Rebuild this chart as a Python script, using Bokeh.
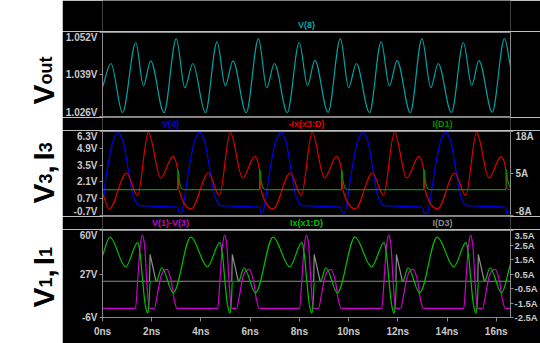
import math
from bokeh.plotting import figure
from bokeh.models import Range1d, LinearAxis, FixedTicker, PrintfTickFormatter, Label
from bokeh.core.properties import value
from bokeh.layouts import row, column
from bokeh.embed import file_html
from bokeh.resources import INLINE

# ---------------- data ----------------
T_END = 16.58  # ns, end of the transient window

# Panel 1: V(8) [V]  (turning points of the waveform)
V8 = [(0.000, 1.0350), (0.342, 1.0424), (0.814, 1.0272), (1.353, 1.0489), (1.663, 1.0355),
      (1.959, 1.0432), (2.498, 1.0272), (2.997, 1.0501), (3.347, 1.0349), (3.670, 1.0424),
      (4.182, 1.0272), (4.654, 1.0491), (4.991, 1.0355), (5.301, 1.0432), (5.840, 1.0272),
      (6.338, 1.0501), (6.675, 1.0349), (6.985, 1.0424), (7.510, 1.0272), (7.995, 1.0489),
      (8.332, 1.0356), (8.628, 1.0434), (9.167, 1.0273), (9.666, 1.0501), (10.003, 1.0349),
      (10.313, 1.0424), (10.851, 1.0272), (11.323, 1.0491), (11.660, 1.0355), (11.970, 1.0433),
      (12.508, 1.0272), (12.981, 1.0501), (13.341, 1.0349), (13.640, 1.0424), (14.179, 1.0272),
      (14.665, 1.0489), (15.002, 1.0356), (15.298, 1.0433), (15.837, 1.0273), (16.335, 1.0501),
      (16.580, 1.0414)]

# Panel 2: V(4) [V]
V4 = [(0.000, -0.20), (0.127, 2.29), (0.262, 3.95), (0.423, 5.47), (0.639, 6.25), (0.841, 5.47),
      (1.003, 3.67), (1.137, 2.01), (1.245, 0.90), (1.339, 0.49), (1.380, 0.30), (1.515, 0.13),
      (1.986, 0.08), (2.997, -0.01), (3.064, -0.06), (3.131, -0.48), (3.203, -0.53),
      (3.306, 0.41), (3.441, 2.29), (3.576, 3.95), (3.737, 5.47), (3.953, 6.25), (4.155, 5.47),
      (4.317, 3.67), (4.451, 2.01), (4.559, 0.90), (4.653, 0.49), (4.694, 0.30), (4.829, 0.13),
      (5.300, 0.08), (6.311, -0.01), (6.378, -0.06), (6.445, -0.48), (6.504, -0.53),
      (6.607, 0.41), (6.742, 2.29), (6.877, 3.95), (7.038, 5.47), (7.254, 6.25), (7.456, 5.47),
      (7.618, 3.67), (7.752, 2.01), (7.860, 0.90), (7.954, 0.49), (7.995, 0.30), (8.130, 0.13),
      (8.601, 0.08), (9.612, -0.01), (9.679, -0.06), (9.746, -0.48), (9.832, -0.53),
      (9.935, 0.41), (10.070, 2.29), (10.205, 3.95), (10.366, 5.47), (10.582, 6.25), (10.784, 5.47),
      (10.946, 3.67), (11.080, 2.01), (11.188, 0.90), (11.282, 0.49), (11.323, 0.30), (11.458, 0.13),
      (11.929, 0.08), (12.940, -0.01), (13.007, -0.06), (13.074, -0.48), (13.200, -0.53),
      (13.303, 0.41), (13.438, 2.29), (13.573, 3.95), (13.734, 5.47), (13.950, 6.25), (14.152, 5.47),
      (14.314, 3.67), (14.448, 2.01), (14.556, 0.90), (14.650, 0.49), (14.691, 0.30), (14.826, 0.13),
      (15.297, 0.08), (16.308, -0.01), (16.375, -0.06), (16.442, -0.48), (16.580, -0.53)]

# Panel 2: -Ix(x3:D) [A]
IX3 = [(0.000, -1.0), (0.276, -5.95), (0.976, 5.15), (1.421, -1.83), (1.865, 17.7), (2.363, 3.61),
       (2.862, 10.3), (3.064, 5.67), (3.104, 0.2),
       (3.604, -5.95), (4.304, 5.15), (4.749, -1.83), (5.193, 17.7), (5.691, 3.61),
       (6.190, 10.3), (6.392, 5.67), (6.432, 0.2),
       (6.932, -5.95), (7.632, 5.15), (8.077, -1.83), (8.521, 17.7), (9.019, 3.61),
       (9.518, 10.3), (9.720, 5.67), (9.760, 0.2),
       (10.273, -5.95), (10.973, 5.15), (11.418, -1.83), (11.862, 17.7), (12.360, 3.61),
       (12.859, 10.3), (13.061, 5.67), (13.101, 0.2),
       (13.614, -5.95), (14.314, 5.15), (14.759, -1.83), (15.203, 17.7), (15.701, 3.61),
       (16.200, 10.3), (16.402, 5.67), (16.442, 0.2), (16.580, 0.0)]

# Panel 2: I(D1) [A]
ID1 = [(0.000, 0.0), (3.060, 0.0), (3.064, 6.2), (3.124, 2.6), (3.174, 1.0), (3.234, 0.2), (3.314, 0.0),
       (6.388, 0.0), (6.392, 6.3), (6.452, 2.6), (6.502, 1.0), (6.562, 0.2), (6.642, 0.0),
       (9.716, 0.0), (9.720, 6.2), (9.780, 2.6), (9.830, 1.0), (9.890, 0.2), (9.970, 0.0),
       (13.057, 0.0), (13.061, 6.3), (13.121, 2.6), (13.171, 1.0), (13.231, 0.2), (13.311, 0.0),
       (16.398, 0.0), (16.402, 6.3), (16.462, 3.2), (16.512, 1.6), (16.580, 0.6)]

# Panel 3: V(1)-V(3) [V]
V13 = [(0.000, 0.9),
       (1.339, 0.9), (1.440, 25.0), (1.541, 50.0), (1.622, 56.7), (1.703, 50.0), (1.804, 20.0), (1.897, 0.9),
       (2.107, 0.9), (2.240, 12.5), (2.378, 25.3), (2.499, 29.5), (2.620, 30.5), (2.782, 22.8), (2.915, 7.4), (3.025, 0.9),
       (4.681, 0.9), (4.782, 25.0), (4.883, 50.0), (4.964, 56.7), (5.045, 50.0), (5.146, 20.0), (5.239, 0.9),
       (5.449, 0.9), (5.582, 12.5), (5.720, 25.3), (5.841, 29.5), (5.962, 30.5), (6.124, 22.8), (6.257, 7.4), (6.367, 0.9),
       (8.008, 0.9), (8.109, 25.0), (8.210, 50.0), (8.291, 56.7), (8.372, 50.0), (8.473, 20.0), (8.566, 0.9),
       (8.776, 0.9), (8.909, 12.5), (9.047, 25.3), (9.168, 29.5), (9.289, 30.5), (9.451, 22.8), (9.584, 7.4), (9.694, 0.9),
       (11.350, 0.9), (11.451, 25.0), (11.552, 50.0), (11.633, 56.7), (11.714, 50.0), (11.815, 20.0), (11.908, 0.9),
       (12.118, 0.9), (12.251, 12.5), (12.389, 25.3), (12.510, 29.5), (12.631, 30.5), (12.793, 22.8), (12.926, 7.4), (13.036, 0.9),
       (14.678, 0.9), (14.779, 25.0), (14.880, 50.0), (14.961, 56.7), (15.042, 50.0), (15.143, 20.0), (15.236, 0.9),
       (15.446, 0.9), (15.579, 12.5), (15.717, 25.3), (15.838, 29.5), (15.959, 30.5), (16.121, 22.8), (16.254, 7.4), (16.364, 0.9),
       (16.580, 0.9)]

# Panel 3: Ix(x1:D) [A]
IX1 = [(0.000, 1.75), (0.300, 3.05), (0.940, 1.00),
       (1.436, 2.68), (1.521, 2.00), (1.622, 0.23), (1.735, -1.60), (1.836, -2.22), (1.897, -1.40), (1.933, 0.0),
       (2.188, 0.0), (2.410, 0.93), (2.875, -0.80), (3.590, 3.05), (4.265, 1.00),
       (4.778, 2.68), (4.863, 2.00), (4.964, 0.23), (5.077, -1.60), (5.178, -2.22), (5.239, -1.40), (5.275, 0.0),
       (5.530, 0.0), (5.752, 0.93), (6.217, -0.80), (6.932, 3.05), (7.607, 1.00),
       (8.105, 2.68), (8.190, 2.00), (8.291, 0.23), (8.404, -1.60), (8.505, -2.22), (8.566, -1.40), (8.602, 0.0),
       (8.857, 0.0), (9.079, 0.93), (9.544, -0.80), (10.259, 3.05), (10.934, 1.00),
       (11.447, 2.68), (11.532, 2.00), (11.633, 0.23), (11.746, -1.60), (11.847, -2.22), (11.908, -1.40), (11.944, 0.0),
       (12.199, 0.0), (12.421, 0.93), (12.886, -0.80), (13.601, 3.05), (14.276, 1.00),
       (14.775, 2.68), (14.860, 2.00), (14.961, 0.23), (15.074, -1.60), (15.175, -2.22), (15.236, -1.40), (15.272, 0.0),
       (15.527, 0.0), (15.749, 0.93), (16.214, -0.80), (16.580, 1.20)]

# Panel 3: I(D3) [A]
ID3 = [(0.000, 0.0), (1.912, 0.0), (1.933, 1.85), (2.176, 0.0),
       (5.254, 0.0), (5.275, 1.85), (5.518, 0.0),
       (8.581, 0.0), (8.602, 1.85), (8.845, 0.0),
       (11.923, 0.0), (11.944, 1.85), (12.187, 0.0),
       (15.251, 0.0), (15.272, 1.85), (15.515, 0.0),
       (16.580, 0.0)]

# axis ticks
X_TICKS = [0, 2, 4, 6, 8, 10, 12, 14, 16]
P1_TICKS = [1.026, 1.039, 1.052]
P2_TICKS = [-0.7, 0.7, 2.1, 3.5, 4.9, 6.3]
P2R_TICKS = [-8, 5, 18]
P3_TICKS = [-6, 27, 60]
P3R_TICKS = [-2.5, -1.5, -0.5, 0.5, 1.5, 2.5, 3.5]

# trace names shown above each pane
P1_NAMES = ["V(8)"]
P2_NAMES = ["V(4)", "-Ix(x3:D)", "I(D1)"]
P3_NAMES = ["V(1)-V(3)", "Ix(x1:D)", "I(D3)"]

# ---------------- styling ----------------
FONT = "Liberation Sans"
FRAME = "#8a8a8a"
TXT = "#c8c8c8"
C_V8 = "#00a3a3"
C_BLUE = "#0000f0"
C_RED = "#e00000"
C_G2 = "#009000"
C_MAG = "#d000d0"
C_G3 = "#00c000"
C_GRAY = "#8c8c8c"
LW = 1.2
NAME_X = [T_END / 6, T_END / 2, T_END * 5 / 6]


def xs(data):
    return [p[0] for p in data]


def ys(data):
    return [p[1] for p in data]


def style_axis(ax, ticks, fmt, standoff=2, tick_out=3, size="10px"):
    ax.ticker = FixedTicker(ticks=ticks)
    ax.formatter = PrintfTickFormatter(format=fmt)
    ax.axis_line_color = FRAME
    ax.major_tick_line_color = FRAME
    ax.major_tick_out = tick_out
    ax.major_tick_in = 0
    ax.minor_tick_line_color = None
    ax.major_label_text_color = TXT
    ax.major_label_text_font = FONT
    ax.major_label_text_font_size = size
    ax.major_label_text_font_style = "bold"
    ax.major_label_standoff = standoff


def base_fig(height, top, bottom, ylo, yhi, with_x=False, with_y=True):
    p = figure(width=478, height=height, output_backend="svg", toolbar_location=None,
               x_range=Range1d(0, T_END), y_range=Range1d(ylo, yhi),
               x_axis_location="below" if with_x else None,
               y_axis_location="left" if with_y else None,
               min_border_left=38, min_border_right=28,
               min_border_top=top, min_border_bottom=bottom)
    p.background_fill_color = "black"
    p.border_fill_color = "black"
    p.outline_line_color = FRAME
    p.outline_line_width = 1
    p.grid.visible = False
    return p


def name_strip(height, yfrac, names, colors):
    s = base_fig(height, 0, 0, 0, 1, with_x=False, with_y=False)
    s.outline_line_color = None
    n = len(names)
    s.text(x=NAME_X[:n] if n > 1 else [NAME_X[1]], y=[yfrac] * n, text=names,
           text_color=colors, text_font=value(FONT), text_font_size="9px",
           text_font_style="bold", text_align="center", text_baseline="middle")
    return s


def smooth(p, data, color, **kw):
    """Draw a trace through the read points as a shape-preserving cubic (PCHIP) path."""
    x, y = xs(data), ys(data)
    n = len(x)
    h = [x[i + 1] - x[i] for i in range(n - 1)]
    d = [(y[i + 1] - y[i]) / h[i] for i in range(n - 1)]
    m = [0.0] * n
    m[0], m[-1] = d[0], d[-1]
    for i in range(1, n - 1):
        if d[i - 1] * d[i] <= 0:
            m[i] = 0.0
        else:
            w1 = 2 * h[i] + h[i - 1]
            w2 = h[i] + 2 * h[i - 1]
            m[i] = (w1 + w2) / (w1 / d[i - 1] + w2 / d[i])
    cx0 = [x[i] + h[i] / 3 for i in range(n - 1)]
    cy0 = [y[i] + m[i] * h[i] / 3 for i in range(n - 1)]
    cx1 = [x[i + 1] - h[i] / 3 for i in range(n - 1)]
    cy1 = [y[i + 1] - m[i + 1] * h[i] / 3 for i in range(n - 1)]
    p.bezier(x0=x[:-1], y0=y[:-1], x1=x[1:], y1=y[1:], cx0=cx0, cy0=cy0, cx1=cx1, cy1=cy1,
             line_color=color, line_width=LW, **kw)


# Panel 1 (page y: strip 0-31, frame 32-116)
s1 = name_strip(31, 0.20, P1_NAMES, [C_V8])
p1 = base_fig(86, 1, 1, 1.026, 1.052)
style_axis(p1.yaxis[0], P1_TICKS, "%.3fV")
smooth(p1, V8, C_V8)

# Panel 2 (strip 117-130, frame 131-215)
s2 = name_strip(13, 0.50, P2_NAMES, [C_BLUE, C_RED, C_G2])
p2 = base_fig(86, 1, 1, -0.7, 6.3)
p2.extra_y_ranges = {"amp": Range1d(-8, 18)}
style_axis(p2.yaxis[0], P2_TICKS, "%.1fV")
ax2 = LinearAxis(y_range_name="amp")
style_axis(ax2, P2R_TICKS, "%dA")
p2.add_layout(ax2, "right")
smooth(p2, V4, C_BLUE)
smooth(p2, IX3, C_RED, y_range_name="amp")
smooth(p2, ID1, C_G2, y_range_name="amp")

# Panel 3 (strip 216-229, frame 230-317, ticks below)
s3 = name_strip(13, 0.48, P3_NAMES, [C_MAG, C_G3, C_GRAY])
p3 = base_fig(114, 1, 26, -6, 60, with_x=True)
p3.extra_y_ranges = {"amp": Range1d(-2.5, 3.5)}
style_axis(p3.yaxis[0], P3_TICKS, "%dV")
style_axis(p3.xaxis[0], X_TICKS, "%dns", standoff=4, tick_out=4)
ax3 = LinearAxis(y_range_name="amp")
style_axis(ax3, P3R_TICKS, "%.1fA", standoff=1, size="9.5px")
p3.add_layout(ax3, "right")
p3.line(xs(ID3), ys(ID3), line_color=C_GRAY, line_width=LW, y_range_name="amp")
smooth(p3, V13, C_MAG)
smooth(p3, IX1, C_G3, y_range_name="amp")

# Left side labels (white strip, coordinates = page pixels)
lab = figure(width=62, height=343, output_backend="svg", toolbar_location=None,
             x_range=Range1d(0, 62), y_range=Range1d(343, 0),
             x_axis_location=None, y_axis_location=None, min_border=0)
lab.outline_line_color = None
lab.grid.visible = False
lab.background_fill_color = "white"
lab.border_fill_color = "white"

BIG = "30px"
SMALL = "18px"


def vlabel(x, y, text, size):
    lab.add_layout(Label(x=x, y=y, text=text, angle=math.pi / 2, text_color="black",
                         text_font=FONT, text_font_size=size, text_font_style="bold",
                         text_align="left", text_baseline="alphabetic"))


# V_out
vlabel(43, 104, "V", BIG)
vlabel(45, 84, "out", SMALL)
# V_3, I_3
vlabel(43, 203, "V", BIG)
vlabel(45, 183, "3", SMALL)
vlabel(43, 173, ",", BIG)
vlabel(43, 160, "I", BIG)
vlabel(45, 151.7, "3", SMALL)
# V_1, I_1
vlabel(43, 307, "V", BIG)
vlabel(45, 287, "1", SMALL)
vlabel(43, 277, ",", BIG)
vlabel(43, 264.7, "I", BIG)
vlabel(45, 256.4, "1", SMALL)

layout = row(lab, column(s1, p1, s2, p2, s3, p3))
open("out.html", "w").write(file_html(layout, INLINE))
